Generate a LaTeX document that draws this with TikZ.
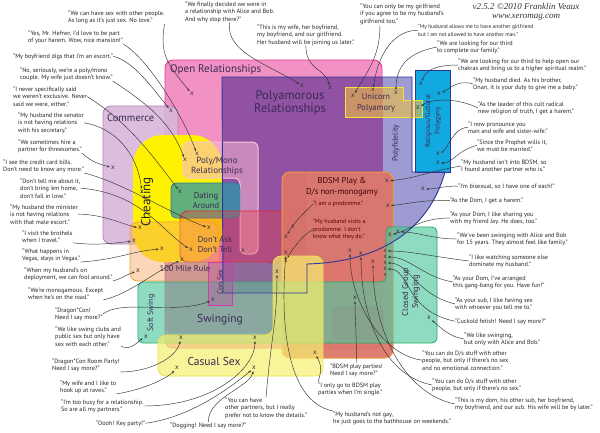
\documentclass[tikz,border=0pt]{standalone}
\usepackage{fontspec}
\setmainfont{PT Sans}
\newfontfamily\serifit{Liberation Serif}
\usetikzlibrary{arrows.meta,calc}
\definecolor{openF}{HTML}{F291C4}
\definecolor{openD}{HTML}{E23B93}
\definecolor{polyF}{HTML}{9152A3}
\definecolor{polyD}{HTML}{2E3796}
\definecolor{fidF}{HTML}{9D9BD2}
\definecolor{relF}{HTML}{12A9E1}
\definecolor{uniF}{HTML}{F0C040}
\definecolor{uniD}{HTML}{F3E33A}
\definecolor{comF}{HTML}{D9B6DA}
\definecolor{comD}{HTML}{B085B5}
\definecolor{cheF}{HTML}{FFF200}
\definecolor{pmF}{HTML}{F8B8D0}
\definecolor{pmD}{HTML}{F6C6D6}
\definecolor{datF}{HTML}{2E98A8}
\definecolor{datD}{HTML}{2A8090}
\definecolor{dadF}{HTML}{EE4040}
\definecolor{dadD}{HTML}{E8262A}
\definecolor{mileF}{HTML}{F7A860}
\definecolor{mileD}{HTML}{F3A03C}
\definecolor{bdsF}{HTML}{DC7468}
\definecolor{bdsD}{HTML}{F39A3C}
\definecolor{swF}{HTML}{54C8A0}
\definecolor{swD}{HTML}{1FAE64}
\definecolor{grayF}{HTML}{8A9488}
\definecolor{casF}{HTML}{F6F06E}
\definecolor{casD}{HTML}{EFE24A}
\definecolor{conF}{HTML}{C04AA0}
\definecolor{conD}{HTML}{D23CAA}
\definecolor{ttl}{HTML}{3A2A55}
\begin{document}
\begin{tikzpicture}[x=1pt,y=-1pt,
  q/.style={font=\fontsize{6.2}{7.5}\selectfont, text=black!85, align=left, inner sep=0pt, anchor=north west},
  pq/.style={font=\fontsize{6}{7.3}\selectfont, text=red!35!black, align=left, inner sep=0pt, anchor=north west},
  xm/.style={font=\fontsize{7}{7}\selectfont, text=black!80, inner sep=0pt},
  xs/.style={font=\fontsize{6.2}{6.2}\selectfont, text=black!80, inner sep=0pt},
  lead/.style={draw=black!80, line width=0.45pt, -{Stealth[length=2.8pt,width=2.2pt]}, shorten >=1.2pt},
  rt/.style={text=ttl, inner sep=0pt, align=center},
  hdr/.style={font=\serifit\itshape\fontsize{9}{8.6}\selectfont, text=black!80, inner sep=0pt, align=center}]
\useasboundingbox (0,0) rectangle (600,432);
\fill[white] (0,0) rectangle (600,432);
% ---------------- regions ----------------
\draw[fill=openF, draw=openD, line width=0.9pt, rounded corners=8pt] (165,60) rectangle (382,348);
\draw[fill=comF, fill opacity=0.9, draw=comD, line width=0.8pt, rounded corners=8pt] (103,106) rectangle (178,244);
\fill[cheF, rounded corners=30pt] (133,135) rectangle (222,262);
\fill[polyF] (222,77) -- (412,77) -- (412,172) -- (445,172) .. controls (428,232) and (378,262) .. (307,264) -- (307,293) -- (223,293) -- cycle;
\fill[fidF] (383,77) -- (412,77) -- (412,172) -- (445,172) .. controls (428,232) and (378,262) .. (307,264) -- (307,172) -- (383,172) -- cycle;
\draw[fill=relF, draw=polyD, line width=0.9pt] (415,70) rectangle (450,172);
\draw[fill=uniF, fill opacity=0.6, draw=uniD, line width=1pt] (345,87) -- (403,87) -- (403,100) -- (422,100) -- (422,117) -- (345,117) -- cycle;
\draw[fill=pmF, fill opacity=0.55, draw=pmD, line width=1pt, rounded corners=6pt] (183,142) -- (258,142) -- (258,254) -- (240,254) -- (240,178) -- (183,178) -- cycle;
\draw[fill=datF, fill opacity=0.75, draw=datD, line width=0.8pt, rounded corners=5pt] (171,183) rectangle (240,218);
\draw[fill=dadF, fill opacity=0.35, draw=dadD, line width=0.9pt, rounded corners=8pt] (180,211) rectangle (290,262);
\draw[fill=mileF, fill opacity=0.45, draw=mileD, line width=0.8pt, rounded corners=8pt] (130,222) rectangle (218,281);
\draw[fill=bdsF, fill opacity=0.92, draw=bdsD, line width=1pt, rounded corners=8pt] (282,172) rectangle (393,358);
\draw[fill=swF, fill opacity=0.65, draw=swD, line width=0.8pt, rounded corners=5pt] (138,282) -- (386,282) -- (386,227) -- (437,227) -- (437,343) -- (138,343) -- cycle;
\fill[grayF, fill opacity=0.35, rounded corners=7pt] (165,262) rectangle (273,333);
\fill[grayF, fill opacity=0.35, rounded corners=7pt] (332,306) rectangle (384,340);
\draw[fill=casF, fill opacity=0.7, draw=casD, line width=0.8pt, rounded corners=8pt] (273,256) -- (323,256) -- (323,376) -- (158,376) -- (158,335) -- (273,335) -- cycle;
\draw[fill=conF, fill opacity=0.35, draw=conD, line width=0.9pt] (208,262) rectangle (232,305);
\draw[polyD, line width=0.9pt] (222,77) -- (412,77) -- (412,172) -- (445,172) .. controls (428,232) and (378,262) .. (307,264) -- (307,293) -- (223,293) -- cycle;
% ---------------- region labels ----------------
\node[rt, anchor=west, font=\fontsize{11}{12}\selectfont] (nOpen) at (170,70) {Open Relationships};
\node[rt, font=\fontsize{12.5}{13.5}\selectfont] (nPoly) at (290,103) {Polyamorous\\Relationships};
\node[rt, anchor=west, font=\fontsize{10.5}{11}\selectfont] (nCom) at (107,118) {Commerce};
\node[rt, rotate=90, font=\fontsize{13}{13}\selectfont, text=black!85] (nChe) at (147,202) {Cheating};
\node[rt, font=\fontsize{9}{10.5}\selectfont] (nPM) at (217,166) {Poly/Mono\\Relationships};
\node[rt, font=\fontsize{8.5}{10}\selectfont] (nDat) at (206,201) {Dating\\Around};
\node[rt, font=\fontsize{8.5}{10}\selectfont] (nDad) at (215,245) {Don’t Ask\\Don’t Tell};
\node[rt, font=\fontsize{8.5}{9}\selectfont] (nMile) at (185,269) {100 Mile Rule};
\node[rt, font=\fontsize{8.5}{10.5}\selectfont] (nUni) at (376,103) {Unicorn\\Polyamory};
\node[rt, rotate=90, font=\fontsize{7}{9.5}\selectfont] (nRel) at (433,121) {Religious/Cultural\\Polygyny};
\node[rt, rotate=90, font=\fontsize{7.8}{8}\selectfont] (nFid) at (396,143) {Polyfidelity};
\node[rt, font=\fontsize{8.5}{10.5}\selectfont, text=red!25!black] (nBds) at (342,187) {BDSM Play \&\\D/s non-monogamy};
\node[rt, rotate=90, font=\fontsize{8.5}{10}\selectfont] (nCG) at (411,292) {Closed Group\\Swinging};
\node[rt, rotate=90, font=\fontsize{8}{8}\selectfont] (nSoft) at (151,313) {Soft Swing};
\node[rt, rotate=90, font=\fontsize{7.5}{8}\selectfont] (nCon) at (220,282) {Con Sex};
\node[rt, font=\fontsize{11.5}{12}\selectfont] (nSw) at (220,320) {Swinging};
\node[rt, font=\fontsize{11.5}{12}\selectfont] (nCas) at (214,361) {Casual Sex};
% ---------------- header ----------------
\node[hdr, anchor=north] (hdr) at (526,3) {v2.5.2 ©2010 Franklin Veaux\\www.xeromag.com};
% ---------------- x markers ----------------
\foreach \n/\px/\py in {1/192/94,2/171/111,3/185/160,4/197/154,5/180/192,6/209/228,7/162/249,8/191/250,9/182/260,10/243/251,11/293/227,12/286/237,13/286/253,14/286/261,15/277/272,16/113/168,17/142/192,18/140/228,19/134/241,20/138/271,21/302/86,22/330/88,23/353/96,24/373/90,25/396/93,26/418/108,27/421/84,28/439/94,29/438/154,30/438/163,31/387/181,32/423/189,33/388/206,34/390/235,35/398/232,36/350/251,37/361/254,38/373/262,44/146/337,45/213/300,46/181/338,47/255/338,48/177/368,49/254/368,50/355/298,51/429/318,52/315/353}
  \node[xm] (x\n) at (\px,\py) {x};
\foreach \n/\py in {39/251,40/257,41/263,42/269,43/275}
  \node[xs] (x\n) at (385,\py) {x};
% ---------------- quotes ----------------
\node[q] (L1) at (68,10) {“We can have sex with other people.\\As long as it’s just sex. No love.”};
\node[q] (L2) at (28,30) {“Yes, Mr. Hefner, I’d love to be part\\of your harem. Wow, nice mansion!”};
\node[q] (L3) at (13,53) {“My boyfriend digs that I’m an escort.”};
\node[q] (L4) at (20,67) {“No, seriously, we’re a poly/mono\\couple. My wife just doesn’t know.”};
\node[q] (L5) at (13,86) {“I never specifically said\\we weren’t exclusive. Never\\said we were, either.”};
\node[q] (L6) at (18,112) {“My husband the senator\\is not having relations\\with his secretary.”};
\node[q] (L7) at (18,139) {“We sometimes hire a\\partner for threesomes.”};
\node[q] (L8) at (3,159) {“I see the credit card bills.\\Don’t need to know any more.”};
\node[q] (L9) at (20,178) {“Don’t tell me about it,\\don’t bring ’em home,\\don’t fall in love.”};
\node[q] (L10) at (10,204) {“My husband the minister\\is not having relations\\with that male escort.”};
\node[q] (L11) at (22,230) {“I visit the brothels\\when I travel.”};
\node[q] (L12) at (22,248) {“What happens in\\Vegas, stays in Vegas.”};
\node[q] (L13) at (24,267) {“When my husband’s on\\deployment, we can fool around.”};
\node[q] (L14) at (28,287) {“We’re monogamous. Except\\when he’s on the road.”};
\node[q] (L15) at (55,307) {“Dragon*Con!\\Need I say more?”};
\node[q] (L16) at (55,326) {“We like swing clubs and\\public sex but only have\\sex with each other.”};
\node[q] (L17) at (52,358) {“Dragon*Con Room Party!\\Need I say more?”};
\node[q] (L18) at (60,380) {“My wife and I like to\\hook up at raves.”};
\node[q] (L19) at (61,399) {“I’m too busy for a relationship.\\So are all my partners.”};
\node[q] (L20) at (96,420) {“Oooh! Key party!”};
\node[q] (B1) at (170,422) {“Dogging! Need I say more?”};
\node[q] (B2) at (225,397) {“You can have\\other partners, but I really\\prefer not to know the details.”};
\node[q] (B3) at (330,363) {“BDSM play parties!\\Need I say more?”};
\node[q] (B4) at (318,382) {“I only go to BDSM play\\parties when I’m single.”};
\node[q] (B5) at (333,411) {“My husband’s not gay,\\he just goes to the bathhouse on weekends.”};
\node[q] (T1) at (185,1) {“We finally decided we were in\\a relationship with Alice and Bob.\\And why stop there?”};
\node[q] (T2) at (257,24) {“This is my wife, her boyfriend,\\my boyfriend, and our girlfriend.\\Her husband will be joining us later.”};
\node[q] (T3) at (360,3) {“You can only be my girlfriend\\if you agree to be my husband’s\\girlfriend too.”};
\node[q, font=\fontsize{5.4}{7.8}\selectfont] (R1) at (418,24) {“My husband allows me to have another girlfriend\\but I am not allowed to have another man.”};
\node[q] (R2) at (437,40) {“We are looking for our third\\to complete our family.”};
\node[q] (R3) at (458,58) {“We are looking for our third to help open our\\chakras and bring us to a higher spiritual realm.”};
\node[q] (R4) at (473,77) {“My husband died. As his brother,\\Onan, it is your duty to give me a baby.”};
\node[q] (R5) at (478,101) {“As the leader of this cult radical\\new religion of truth, I get a harem.”};
\node[q] (R6) at (468,121) {“I now pronounce you\\man and wife and sister-wife.”};
\node[q] (R7) at (477,139) {“Since the Prophet wills it,\\we must be married.”};
\node[q] (R8) at (461,159) {“My husband isn’t into BDSM, so\\I found another partner who is.”};
\node[q] (R9) at (458,183) {“I’m bisexual, so I have one of each!”};
\node[q] (R10) at (450,197) {“As the Dom, I get a harem.”};
\node[q] (R11) at (450,211) {“As your Dom, I like sharing you\\with my friend Jay. He does, too.”};
\node[q] (R12) at (457,232) {“We’ve been swinging with Alice and Bob\\for 15 years. They almost feel like family.”};
\node[q] (R13) at (469,254) {“I like watching someone else\\dominate my husband.”};
\node[q] (R14) at (453,275) {“As your Dom, I’ve arranged\\this gang-bang for you. Have fun!”};
\node[q] (R15) at (455,297) {“As your sub, I like having sex\\with whoever you tell me to.”};
\node[q] (R16) at (455,318) {“Cuckold fetish! Need I say more?”};
\node[q] (R17) at (464,332) {“We like swinging,\\but only with Alice and Bob.”};
\node[q] (R18) at (422,350) {“You can do D/s stuff with other\\people, but only if there’s no sex\\and no emotional connection.”};
\node[q] (R19) at (432,378) {“You can do D/s stuff with other\\people, but only if there’s no sex.”};
\node[q] (R20) at (455,397) {“This is my dom, his other sub, her boyfriend,\\my boyfriend, and our sub. His wife will be by later.”};
\node[pq] (P1) at (313,201) {“I am a prodomme.”};
\node[pq] (P2) at (313,219) {“My husband visits a\\prodomme. I don’t\\know what they do.”};
% ---------------- leaders ----------------
\draw[lead] (L1.south east) .. controls +(-5,30) and +(-25,-30) .. (x1);
\draw[lead] (L2.south east) .. controls +(25,15) and +(-15,-40) .. (x4);
\draw[lead] (L3.east) .. controls +(20,5) and +(-20,-25) .. (x2);
\draw[lead] (L4.south east) .. controls +(30,20) and +(-15,-40) .. (x3);
\draw[lead] (L5.east) .. controls +(40,25) and +(-30,-40) .. (x5);
\draw[lead] (L6.east) .. controls +(30,5) and +(-5,-40) .. (x17);
\draw[lead] (L7.south east) .. controls +(10,10) and +(-10,-3) .. (x16);
\draw[lead] (L8.south east) .. controls +(40,10) and +(-40,-15) .. (x6);
\draw[lead] (L9.east) .. controls +(60,5) and +(-30,-20) .. (x8);
\draw[lead] (L10.east) .. controls +(25,0) and +(-15,-3) .. (x18);
\draw[lead] (L11.south east) .. controls +(25,3) and +(-20,2) .. (x19);
\draw[lead] (L12.south east) .. controls +(40,-3) and +(-30,2) .. (x7);
\draw[lead] (L13.south east) .. controls +(8,-2) and +(-10,3) .. (x20);
\draw[lead] (L14.south east) .. controls +(25,-5) and +(-25,10) .. (x9);
\draw[lead] (L15.east) .. controls +(20,-15) and +(-40,15) .. (x45);
\draw[lead] (L16.south east) .. controls +(10,5) and +(-8,4) .. (x44);
\draw[lead] (L17.south east) .. controls +(30,0) and +(-5,20) .. (x46);
\draw[lead] (L18.south east) .. controls +(30,-5) and +(-10,10) .. (x48);
\draw[lead] (L19.east) .. controls +(70,0) and +(0,30) .. (x47);
\draw[lead] (L20.east) .. controls +(40,-5) and +(-30,25) .. (x49);
\draw[lead] (B1.north) .. controls +(0,-25) and +(-5,20) .. (x49);
\draw[lead] (B2.north) .. controls +(5,-60) and +(0,50) .. (x15);
\draw[lead] (B3.north) .. controls +(0,-30) and +(0,20) .. (x50);
\draw[lead] (B4.north west) .. controls +(5,-15) and +(5,10) .. (x52);
\draw[lead] (B5.north west) .. controls +(-50,-10) and +(-5,60) .. (x13);
\draw[lead] (T1.south) .. controls +(-5,30) and +(-30,-20) .. (x21);
\draw[lead] (T2.south) .. controls +(0,25) and +(-5,-20) .. (x22);
\draw[lead] ($(T3.south west)+(20,1)$) .. controls +(0,30) and +(15,-25) .. (x23);
\draw[lead] (R1.west) .. controls +(-25,0) and +(5,-35) .. (x24);
\draw[lead] (R2.west) .. controls +(-25,5) and +(0,-30) .. (x25);
\draw[lead] (R3.west) .. controls +(-20,0) and +(5,-15) .. (x27);
\draw[lead] (R4.west) .. controls +(-15,-5) and +(10,-5) .. (x28);
\draw[lead] (R5.west) .. controls +(-20,-10) and +(15,-10) .. (x26);
\draw[lead] (R6.west) .. controls +(-15,0) and +(10,-5) .. (x29);
\draw[lead] (R7.west) .. controls +(-20,5) and +(15,0) .. (x30);
\draw[lead] (R8.west) .. controls +(-30,5) and +(30,-3) .. (x31);
\draw[lead] (R9.west) .. controls +(-15,0) and +(12,0) .. (x32);
\draw[lead] (R10.west) .. controls +(-30,0) and +(25,-3) .. (x33);
\draw[lead] (R11.west) .. controls +(-30,0) and +(20,-5) .. (x34);
\draw[lead] (R12.west) .. controls +(-25,0) and +(20,0) .. (x35);
\draw[lead] (R13.west) .. controls +(-40,-5) and +(25,0) .. (x39);
\draw[lead] (R14.west) .. controls +(-30,-5) and +(25,0) .. (x40);
\draw[lead] (R15.west) .. controls +(-40,-10) and +(25,0) .. (x41);
\draw[lead] (R16.west) .. controls +(-50,-10) and +(25,0) .. (x42);
\draw[lead] (R17.west) .. controls +(-15,-2) and +(10,8) .. (x51);
\draw[lead] (R18.west) .. controls +(-40,-5) and +(0,50) .. (x36);
\draw[lead] (R19.west) .. controls +(-50,-10) and +(0,60) .. (x37);
\draw[lead] (R20.west) .. controls +(-50,-10) and +(0,70) .. (x38);
\draw[lead] (P1.west) .. controls +(-10,10) and +(8,-15) .. (x12);
\draw[lead] (P2.west) .. controls +(-10,5) and +(5,-10) .. (x14);
\end{tikzpicture}
\end{document}
